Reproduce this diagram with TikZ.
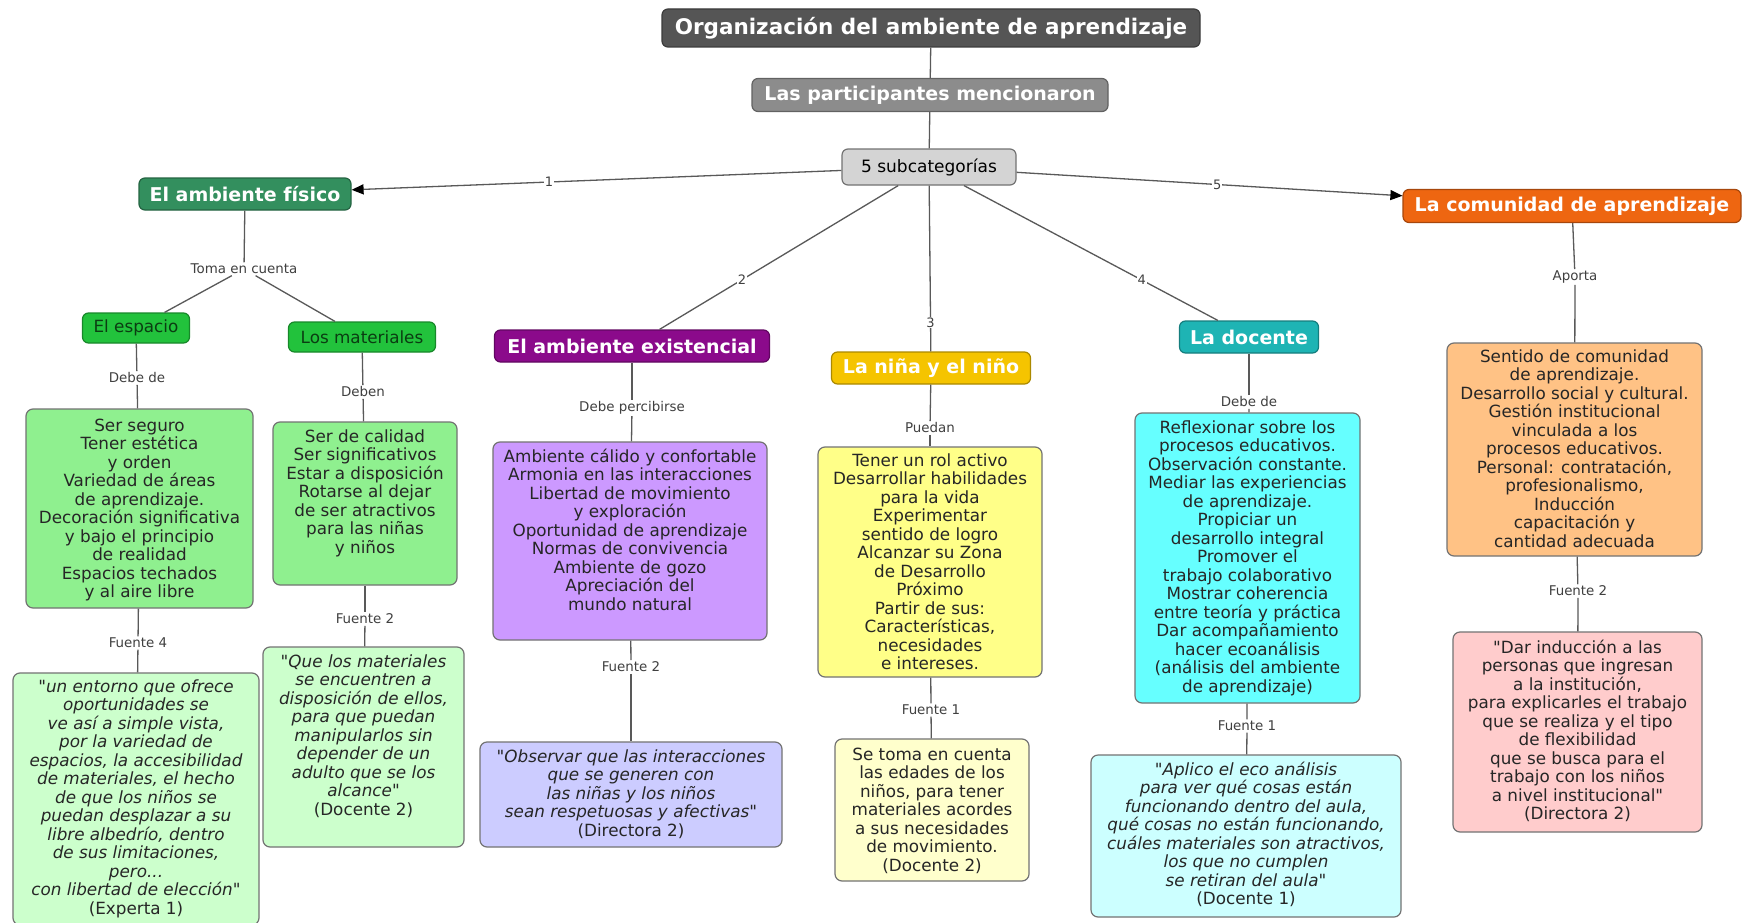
\documentclass[tikz,border=0pt]{standalone}
\usepackage{fontspec}
\setmainfont{DejaVu Sans}[Ligatures=TeXOff]
\usetikzlibrary{arrows.meta}

\definecolor{cTitle}{HTML}{555555}
\definecolor{cPart}{HTML}{8C8C8C}
\definecolor{cSub}{HTML}{D4D4D4}
\definecolor{cFis}{HTML}{338F5E}
\definecolor{cEsp}{HTML}{22C23C}
\definecolor{cEspTxt}{HTML}{0B3D12}
\definecolor{cGreenBox}{HTML}{8FF08F}
\definecolor{cGreenQ}{HTML}{CCFFCC}
\definecolor{cExi}{HTML}{8B0A8B}
\definecolor{cPurBox}{HTML}{CC99FF}
\definecolor{cPurQ}{HTML}{CCCCFF}
\definecolor{cNin}{HTML}{F5C400}
\definecolor{cYelBox}{HTML}{FFFF88}
\definecolor{cYelQ}{HTML}{FFFFCC}
\definecolor{cDoc}{HTML}{1EB4B4}
\definecolor{cCyBox}{HTML}{66FFFF}
\definecolor{cCyQ}{HTML}{CCFFFF}
\definecolor{cCom}{HTML}{EE6611}
\definecolor{cOrBox}{HTML}{FFC285}
\definecolor{cPinkQ}{HTML}{FFCCCC}

% width, height, first-baseline offset, text
\newcommand{\bxt}[4]{\parbox[c][#2pt][t]{#1pt}{\centering\rule{0pt}{#3pt}#4\par}}

\tikzset{
  hdr/.style={draw=#1!70!black, fill=#1, rounded corners=6pt, text=white,
    font=\fontsize{19}{22}\selectfont\bfseries, inner sep=0pt, line width=1.2pt},
  body/.style={draw=black!55, fill=#1, rounded corners=7pt, inner sep=0pt,
    line width=1.2pt, font=\fontsize{16.8}{18.5}\selectfont, text=black!85},
  lnk/.style={fill=white, inner sep=1.5pt, font=\fontsize{13.4}{15}\selectfont, text=black!75},
  num/.style={fill=white, inner sep=1pt, font=\fontsize{13}{15}\selectfont, text=black!75},
  con/.style={draw=black!65, line width=1.3pt},
  arr/.style={con, -{Triangle[length=12pt,width=10pt,color=black]}},
}

\begin{document}
\begin{tikzpicture}[x=1pt, y=-1pt]
\fill[white] (0,0) rectangle (1742,923);
\useasboundingbox (0,0) rectangle (1742,923);

% ---- top level
\node[hdr=cTitle, minimum width=538pt, minimum height=38pt,
  font=\fontsize{21.5}{24}\selectfont\bfseries] (title) at (931,28)
  {Organización del ambiente de aprendizaje};
\node[hdr=cPart, minimum width=356pt, minimum height=33pt] (part) at (930,95)
  {Las participantes mencionaron};
\node[hdr=cSub, text=black, font=\fontsize{17}{20}\selectfont,
  draw=black!55, minimum width=174pt, minimum height=36pt] (sub) at (929,167)
  {5 subcategorías};

% ---- categories
\node[hdr=cFis, minimum width=212pt, minimum height=32pt] (fis) at (245,194) {El ambiente físico};
\node[hdr=cCom, minimum width=338pt, minimum height=33pt] (com) at (1572,206) {La comunidad de aprendizaje};
\node[hdr=cExi, minimum width=275pt, minimum height=32pt] (exi) at (632,346) {El ambiente existencial};
\node[hdr=cNin, minimum width=199pt, minimum height=32pt] (nin) at (931,368) {La niña y el niño};
\node[hdr=cDoc, minimum width=139pt, minimum height=32pt] (doc) at (1249,337) {La docente};

\node[hdr=cEsp, text=cEspTxt, font=\fontsize{16.8}{19}\selectfont,
  minimum width=107pt, minimum height=30pt] (esp) at (136,328) {El espacio};
\node[hdr=cEsp, text=cEspTxt, font=\fontsize{16.8}{19}\selectfont,
  minimum width=147pt, minimum height=30pt] (mat) at (362,337) {Los materiales};

% ---- content boxes
\node[body=cGreenBox] (seguro) at (139.5,508.5) {\bxt{227}{199}{22}{Ser seguro\\Tener estética\\y orden\\Variedad de áreas\\de aprendizaje.\\Decoración significativa\\y bajo el principio\\de realidad\\Espacios techados\\y al aire libre}};
\node[body=cGreenBox] (calidad) at (365,503.5) {\bxt{184}{163}{20}{Ser de calidad\\Ser significativos\\Estar a disposición\\Rotarse al dejar\\de ser atractivos\\para las niñas\\y niños}};
\node[body=cGreenQ] (qesp) at (136,799) {\bxt{246}{252}{19}{\itshape "un entorno que ofrece\\oportunidades se\\ve así a simple vista,\\por la variedad de\\espacios, la accesibilidad\\de materiales, el hecho\\de que los niños se\\puedan desplazar a su\\libre albedrío, dentro\\de sus limitaciones,\\pero...\\con libertad de elección"\\\upshape (Experta 1)}};
\node[body=cGreenQ] (qmat) at (363.5,747) {\bxt{201}{200}{20}{\itshape "Que los materiales\\se encuentren a\\disposición de ellos,\\para que puedan\\manipularlos sin\\depender de un\\adulto que se los\\alcance"\\\upshape (Docente 2)}};

\node[body=cPurBox] (exbox) at (630,541) {\bxt{274}{198}{20}{Ambiente cálido y confortable\\Armonia en las interacciones\\Libertad de movimiento\\y exploración\\Oportunidad de aprendizaje\\Normas de convivencia\\Ambiente de gozo\\Apreciación del\\mundo natural}};
\node[body=cPurQ] (qexi) at (631,794.5) {\bxt{302}{105}{20}{\itshape "Observar que las interacciones\\que se generen con\\las niñas y los niños\\sean respetuosas y afectivas"\\\upshape (Directora 2)}};

\node[body=cYelBox] (nibox) at (930,562) {\bxt{224}{230}{19}{Tener un rol activo\\Desarrollar habilidades\\para la vida\\Experimentar\\sentido de logro\\Alcanzar su Zona\\de Desarrollo\\Próximo\\Partir de sus:\\Características,\\necesidades\\e intereses.}};
\node[body=cYelQ] (qnin) at (932,810) {\bxt{194}{142}{21}{Se toma en cuenta\\las edades de los\\niños, para tener\\materiales acordes\\a sus necesidades\\de movimiento.\\(Docente 2)}};

\node[body=cCyBox] (dobox) at (1247.5,558) {\bxt{225}{290}{20}{Reflexionar sobre los\\procesos educativos.\\Observación constante.\\Mediar las experiencias\\de aprendizaje.\\Propiciar un\\desarrollo integral\\Promover el\\trabajo colaborativo\\Mostrar coherencia\\entre teoría y práctica\\Dar acompañamiento\\hacer ecoanálisis\\(análisis del ambiente\\de aprendizaje)}};
\node[body=cCyQ] (qdoc) at (1246,836) {\bxt{310}{162}{20}{\itshape "Aplico el eco análisis\\para ver qué cosas están\\funcionando dentro del aula,\\qué cosas no están funcionando,\\cuáles materiales son atractivos,\\los que no cumplen\\se retiran del aula"\\\upshape (Docente 1)}};

\node[body=cOrBox] (cobox) at (1574.5,449.5) {\bxt{255}{213}{19}{Sentido de comunidad\\de aprendizaje.\\Desarrollo social y cultural.\\Gestión institucional\\vinculada a los\\procesos educativos.\\Personal: contratación,\\profesionalismo,\\Inducción\\capacitación y\\cantidad adecuada}};
\node[body=cPinkQ] (qcom) at (1577.5,732) {\bxt{249}{200}{21}{"Dar inducción a las\\personas que ingresan\\a la institución,\\para explicarles el trabajo\\que se realiza y el tipo\\de flexibilidad\\que se busca para el\\trabajo con los niños\\a nivel institucional"\\(Directora 2)}};

% ---- link phrases
\node[lnk] (toma) at (244,269) {Toma en cuenta};
\node[lnk] (debe1) at (137,378) {Debe de};
\node[lnk] (deben) at (363,392) {Deben};
\node[lnk] (fu4) at (138,643) {Fuente 4};
\node[lnk] (fu2a) at (365,619) {Fuente 2};
\node[lnk] (perc) at (632,408) {Debe percibirse};
\node[lnk] (fu2b) at (631,667) {Fuente 2};
\node[lnk] (pued) at (930,428) {Puedan};
\node[lnk] (fu1a) at (931,710) {Fuente 1};
\node[lnk] (debe2) at (1249,402) {Debe de};
\node[lnk] (fu1b) at (1247,726) {Fuente 1};
\node[lnk] (aport) at (1575,277) {Aporta};
\node[lnk] (fu2c) at (1578,591) {Fuente 2};

% ---- connectors
\draw[con] (title) -- (part);
\draw[con] (part) -- (sub);
\draw[arr] (sub) -- node[num,pos=.597]{1} (fis);
\draw[con] (sub) -- node[num,pos=.654]{2} (exi);
\draw[con] (sub) -- node[num,pos=.826]{3} (nin);
\draw[con] (sub) -- node[num,pos=.70]{4} (doc);
\draw[arr] (sub) -- node[num,pos=.52]{5} (com);

\draw[con] (fis) -- (toma);
\draw[con] (toma) -- (esp);
\draw[con] (toma) -- (mat);
\draw[con] (esp) -- (debe1);
\draw[con] (debe1) -- (seguro);
\draw[con] (seguro) -- (fu4);
\draw[con] (fu4) -- (qesp);
\draw[con] (mat) -- (deben);
\draw[con] (deben) -- (calidad);
\draw[con] (calidad) -- (fu2a);
\draw[con] (fu2a) -- (qmat);

\draw[con] (exi) -- (perc);
\draw[con] (perc) -- (exbox);
\draw[con] (exbox) -- (fu2b);
\draw[con] (fu2b) -- (qexi);

\draw[con] (nin) -- (pued);
\draw[con] (pued) -- (nibox);
\draw[con] (nibox) -- (fu1a);
\draw[con] (fu1a) -- (qnin);

\draw[con] (doc) -- (debe2);
\draw[con] (debe2) -- (dobox);
\draw[con] (dobox) -- (fu1b);
\draw[con] (fu1b) -- (qdoc);

\draw[con] (com) -- (aport);
\draw[con] (aport) -- (cobox);
\draw[con] (cobox) -- (fu2c);
\draw[con] (fu2c) -- (qcom);
\end{tikzpicture}
\end{document}
